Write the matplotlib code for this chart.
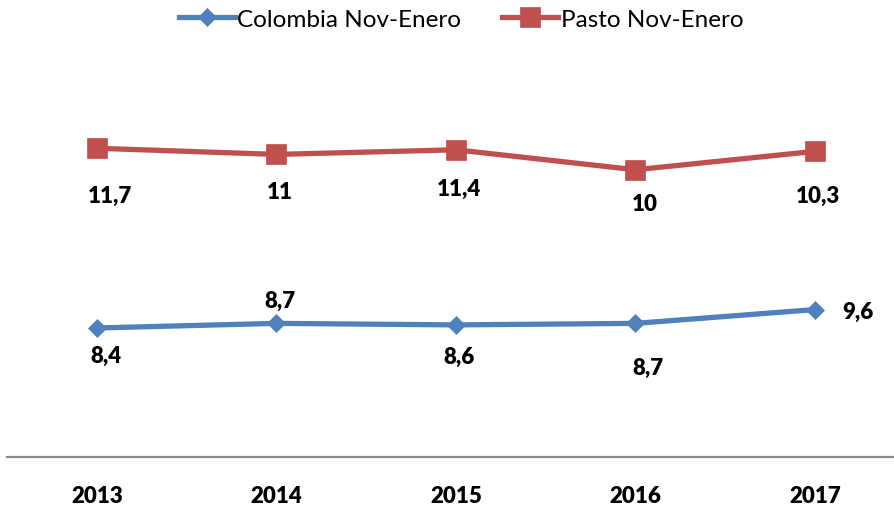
import matplotlib.pyplot as plt
import numpy as np

# data (stacked line chart: pasto line drawn on top of colombia)
years = ['2013', '2014', '2015', '2016', '2017']
colombia = [8.4, 8.7, 8.6, 8.7, 9.6]
pasto = [11.7, 11.0, 11.4, 10.0, 10.3]

# label offsets in pixels (dx, dy), hand placed like the original
col_off = [(9, -27), (3, 23), (3, -32), (12, -44), (43, -2)]
pas_off = [(13, -47), (3, -37), (3, -39), (9, -34), (3, -44)]

blue = '#4F81BD'
red = '#C0504D'
plt.rcParams['font.family'] = ['Lato', 'DejaVu Sans']

fig = plt.figure(figsize=(8.95, 5.06), dpi=100)
ax = fig.add_axes([7.25/895, 48/506, 897.5/895, 384/506])

x = np.arange(len(years))
stacked = np.array(colombia) + np.array(pasto)

ax.plot(x, colombia, color=blue, lw=3.8, marker='D', ms=9.5,
        mec=blue, mew=0.5, label='Colombia Nov-Enero')
ax.plot(x, stacked, color=red, lw=3.8, marker='s', ms=14,
        mec=red, mew=0.5, label='Pasto Nov-Enero')


def fmt(v):
    s = ('%.1f' % v).rstrip('0').rstrip('.')
    return s.replace('.', ',')


for i in range(len(years)):
    ax.annotate(fmt(colombia[i]), (x[i], colombia[i]), xytext=col_off[i],
                textcoords='offset pixels', ha='center', va='center',
                fontsize=16, fontweight='heavy')
    ax.annotate(fmt(pasto[i]), (x[i], stacked[i]), xytext=pas_off[i],
                textcoords='offset pixels', ha='center', va='center',
                fontsize=16, fontweight='heavy')

ax.set_xlim(-0.5, 4.5)
ax.set_ylim(0, 25)
ax.set_xticks(x)
ax.set_xticklabels(years, fontsize=16, fontweight='heavy')
ax.set_yticks([])
ax.tick_params(axis='x', length=0, pad=20)
for s in ['top', 'right', 'left']:
    ax.spines[s].set_visible(False)
ax.spines['bottom'].set_color('#8C8C8C')
ax.spines['bottom'].set_linewidth(1.6)

fig.legend(loc='center', bbox_to_anchor=(461/895, 1 - 20/506), ncol=2,
           frameon=False, fontsize=17.5, handlelength=2.3, handletextpad=0.1,
           columnspacing=1.7)

fig.savefig('out.png', dpi=100)
